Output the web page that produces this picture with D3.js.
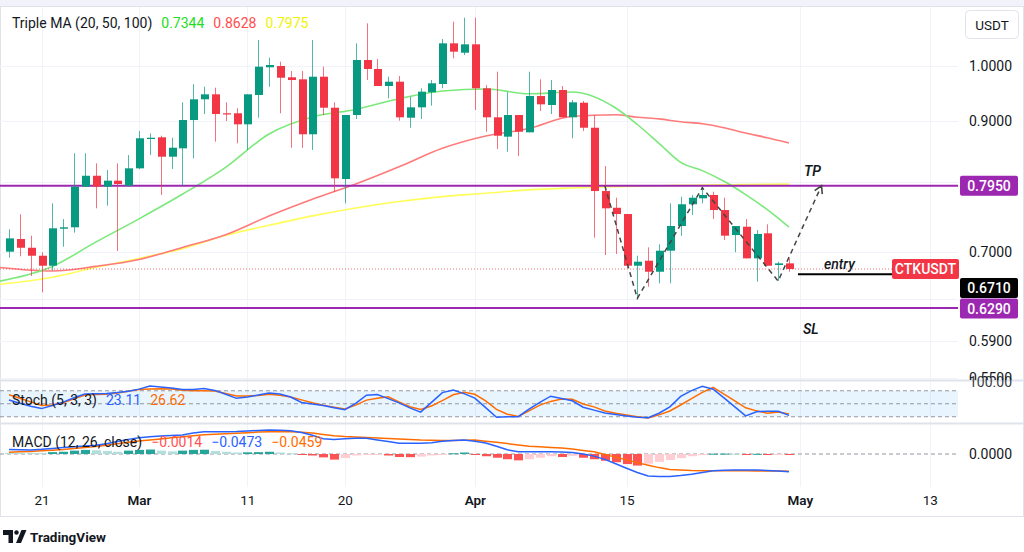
<!DOCTYPE html>
<html><head><meta charset="utf-8">
<script src="https://cdn.jsdelivr.net/npm/d3@7"></script>
<style>
html,body{margin:0;padding:0;background:#fff;}
svg{display:block;font-family:Roboto,"Noto Sans",sans-serif;}
</style></head><body>
<svg id="c" width="1024" height="552"></svg>
<script>
// ---------------- DATA ----------------
const startDay = "2024-02-18";
const open  = [0.7007,0.7179,0.7060,0.6953,0.6821,0.7322,0.7342,0.7936,0.8104,0.7936,0.8028,0.7951,0.8220,0.8695,0.8723,0.8405,0.8541,0.9017,0.9382,0.9472,0.9134,0.9134,0.8943,0.9460,0.9975,1.0000,0.9786,0.9748,0.8774,0.9797,0.9232,0.8053,0.9104,1.0116,0.9943,0.9624,0.9704,0.9057,0.9239,0.9509,0.9661,1.0444,1.0258,1.0424,0.9582,0.9064,0.8734,0.9104,0.8807,0.9441,0.9280,0.9551,0.9064,0.9321,0.8885,0.7870,0.7622,0.7531,0.6821,0.6887,0.6743,0.7020,0.7360,0.7673,0.7761,0.7811,0.7589,0.7234,0.7350,0.6918,0.7258,0.6830,0.6852];
const high  = [0.7314,0.7527,0.7225,0.6999,0.7687,0.7459,0.8460,0.8460,0.8299,0.8194,0.8299,0.8432,0.8829,0.8790,0.8750,0.8716,0.9328,0.9655,0.9611,0.9593,0.9328,0.9222,0.9472,1.0511,1.0160,1.0083,0.9905,0.9905,1.0511,0.9987,0.9328,0.9104,1.0444,1.0852,1.0135,0.9797,0.9810,0.9429,0.9582,0.9735,1.0531,1.0886,1.0969,1.0969,0.9640,0.9892,0.9509,0.9104,0.9892,0.9748,0.9735,0.9624,0.9369,0.9352,0.9104,0.8257,0.7770,0.7531,0.6953,0.7066,0.7106,0.7687,0.7785,0.7811,0.7921,0.7860,0.7770,0.7360,0.7459,0.7304,0.7384,0.6874,0.6918];
const low   = [0.6927,0.6945,0.6688,0.6482,0.6761,0.7074,0.7267,0.7936,0.7614,0.7652,0.7016,0.7936,0.8209,0.8432,0.7811,0.8209,0.7951,0.8379,0.9121,0.8650,0.9000,0.8623,0.8514,0.9057,0.9611,0.9134,0.8551,0.8551,0.8514,0.9104,0.7860,0.7687,0.9035,0.9735,0.9624,0.9400,0.9005,0.8885,0.9035,0.9268,0.9582,1.0149,1.0213,0.9192,0.8817,0.8530,0.8486,0.8416,0.8807,0.9174,0.9121,0.9064,0.8707,0.8829,0.7197,0.6962,0.6976,0.6787,0.6408,0.6552,0.6595,0.6595,0.7225,0.7517,0.7687,0.7459,0.7165,0.6999,0.6918,0.6615,0.6821,0.6624,0.6743];
const close = [0.7188,0.7060,0.6953,0.6821,0.7328,0.7342,0.7936,0.8104,0.7936,0.8028,0.7977,0.8220,0.8707,0.8716,0.8405,0.8551,0.9017,0.9382,0.9472,0.9121,0.9116,0.8943,0.9472,0.9987,1.0019,0.9778,0.9735,0.8774,0.9797,0.9232,0.8064,0.9104,1.0116,0.9943,0.9624,0.9704,0.9064,0.9239,0.9520,0.9674,1.0444,1.0278,1.0424,0.9582,0.9064,0.8750,0.9104,0.8817,0.9441,0.9292,0.9551,0.9064,0.9328,0.8885,0.7870,0.7614,0.7531,0.6821,0.6874,0.6743,0.7020,0.7360,0.7673,0.7770,0.7811,0.7589,0.7225,0.7360,0.6918,0.7249,0.6821,0.6852,0.6778];

// moving averages, read at these day offsets from startDay
const maDays = [-1,4,8,12,16,20,24,28,32,36,40,44,48,52,56,58,60,62,64,66,68,70,72];
const ma20  = [0.6618,0.6811,0.7136,0.7462,0.7821,0.8236,0.8779,0.9069,0.9202,0.9393,0.9531,0.9569,0.9481,0.9514,0.9227,0.8940,0.8623,0.8315,0.8184,0.8018,0.7816,0.7594,0.7344];
const ma50  = [0.6800,0.6752,0.6812,0.6903,0.7064,0.7239,0.7502,0.7747,0.7976,0.8244,0.8541,0.8745,0.8872,0.9081,0.9109,0.9064,0.9036,0.8986,0.8952,0.8885,0.8795,0.8716,0.8628];
const ma100 = [0.6580,0.6671,0.6800,0.6917,0.7048,0.7230,0.7370,0.7504,0.7619,0.7713,0.7787,0.7836,0.7887,0.7916,0.7936,0.7944,0.7951,0.7956,0.7961,0.7965,0.7969,0.7972,0.7975];

const stochK = [58.6,51.3,44.1,38.8,45.9,53.8,63.8,72.5,73.1,73.7,75.8,78.7,83.8,90.8,88.9,86.3,82.9,83.1,85.1,80.8,72.1,62.5,65.8,70.0,75.0,72.3,65.5,52.9,49.3,45.7,41.0,36.2,51.0,69.8,71.1,61.9,52.1,40.4,30.7,53.2,75.7,81.6,73.4,63.1,41.0,18.9,20.1,20.1,37.4,53.3,67.4,62.0,56.9,41.9,35.3,28.8,25.0,21.7,18.8,17.7,28.1,42.8,67.1,80.4,90.5,83.5,63.5,42.9,22.0,31.4,32.9,32.8,23.11];
const stochD = [70.9,62.6,54.4,46.1,47.2,52.2,61.7,70.2,71.2,72.1,75.0,78.9,82.8,84.0,84.9,84.2,81.2,80.1,80.1,79.3,73.5,67.9,67.8,69.1,72.1,69.4,65.8,58.9,52.1,46.6,42.2,37.8,46.7,58.4,62.9,66.2,54.1,43.2,37.0,44.8,57.4,70.7,76.6,71.8,56.8,37.0,25.9,20.4,33.6,46.8,55.4,60.9,60.5,49.5,42.8,33.2,28.1,24.0,19.8,17.2,24.3,33.3,47.1,61.7,76.3,87.6,72.1,56.4,40.7,33.6,28.0,31.1,26.62];

const macdLine = [0.0120,0.0114,0.0109,0.0125,0.0148,0.0171,0.0192,0.0212,0.0233,0.0275,0.0333,0.0391,0.0434,0.0463,0.0478,0.0492,0.0506,0.0561,0.0597,0.0597,0.0597,0.0602,0.0616,0.0630,0.0640,0.0632,0.0621,0.0575,0.0502,0.0406,0.0387,0.0409,0.0419,0.0419,0.0376,0.0332,0.0289,0.0285,0.0285,0.0302,0.0340,0.0359,0.0372,0.0338,0.0292,0.0206,0.0112,0.0062,0.0062,0.0062,0.0061,0.0051,0.0040,0.0001,-0.0057,-0.0143,-0.0262,-0.0381,-0.0493,-0.0589,-0.0599,-0.0599,-0.0575,-0.0540,-0.0492,-0.0450,-0.0433,-0.0428,-0.0428,-0.0428,-0.0442,-0.0456,-0.0473];
const signalLine = [0.0045,0.0057,0.0069,0.0085,0.0102,0.0119,0.0144,0.0173,0.0202,0.0236,0.0275,0.0312,0.0345,0.0373,0.0403,0.0432,0.0461,0.0490,0.0513,0.0528,0.0543,0.0557,0.0571,0.0586,0.0597,0.0597,0.0597,0.0581,0.0561,0.0523,0.0490,0.0466,0.0453,0.0439,0.0427,0.0417,0.0402,0.0388,0.0373,0.0366,0.0361,0.0359,0.0366,0.0373,0.0341,0.0312,0.0278,0.0242,0.0210,0.0193,0.0176,0.0160,0.0133,0.0096,0.0058,-0.0012,-0.0083,-0.0157,-0.0231,-0.0299,-0.0364,-0.0414,-0.0429,-0.0443,-0.0446,-0.0446,-0.0446,-0.0446,-0.0449,-0.0452,-0.0455,-0.0455,-0.0459];
const histo = [0.003,0.003,0.003,0.003,0.005,0.006,0.009,0.011,0.010,0.008,0.006,0.009,0.011,0.012,0.009,0.007,0.009,0.011,0.0115,0.008,0.006,0.004,0.0045,0.005,0.006,0.004,0.002,-0.002,-0.004,-0.009,-0.015,-0.011,-0.004,-0.002,-0.002,-0.004,-0.008,-0.0085,-0.007,-0.004,-0.002,0.002,0.004,-0.002,-0.006,-0.010,-0.014,-0.017,-0.014,-0.010,-0.006,-0.008,-0.005,-0.010,-0.014,-0.018,-0.022,-0.027,-0.031,-0.026,-0.021,-0.016,-0.011,-0.006,-0.003,0.0008,0.001,0.001,-0.001,0.0005,-0.001,-0.001,-0.0014];

// levels & annotation path
const tpLevel = 0.7950, slLevel = 0.6290, entryLevel = 0.6710, lastPrice = 0.6778;
const pathDays = [55,58,64,71,75];
const pathPrices = [0.7950,0.6408,0.7921,0.6624,0.7950];

const timeTicks = ["2024-02-21","2024-03-01","2024-03-11","2024-03-20","2024-04-01","2024-04-15","2024-05-01","2024-05-13"];
const timeLabels = ["21","Mar","11","20","Apr","15","May","13"];
const priceGrid = [1.0,0.9,0.8,0.7,0.64,0.59,0.55];
const priceLabels = [1.0,0.9,0.7,0.59,0.55];

// ---------------- DRAW ----------------
const UP="#089981", DN="#f23645", TXT="#131722", GRID="#f0f3fa";
const svg=d3.select("#c");
const parse=d3.utcParse("%Y-%m-%d");
const t0=parse(startDay);
const day=i=>d3.utcDay.offset(t0,i);
const x=d3.scaleUtc().domain([t0,day(72)]).range([9,789]);
const yP=d3.scaleLog().domain([0.55,1]).range([378.1,66]);
const yS=d3.scaleLinear().domain([0,100]).range([425.4,382.1]);
const yM=d3.scaleLinear().domain([-0.08,0.08]).range([483.92,424.08]);
const plotR=958;

svg.append("rect").attr("width",1024).attr("height",552).attr("fill","#fff");
svg.append("rect").attr("width",1024).attr("height",6).attr("fill","#f0f3fa");
svg.append("rect").attr("x",0.5).attr("y",6.5).attr("width",1023).attr("height",510).attr("fill","none").attr("stroke","#e0e3eb");

const defs=svg.append("defs");
[["cm",8,372],["cs",381,42],["cmd",424,63]].forEach(([id,y0,h])=>{
  defs.append("clipPath").attr("id",id).append("rect").attr("x",0).attr("y",y0).attr("width",plotR).attr("height",h);
});
defs.append("clipPath").attr("id","cax").append("rect").attr("x",958).attr("y",40).attr("width",66).attr("height",340);
defs.append("marker").attr("id","arr").attr("viewBox","0 0 10 10").attr("refX",8).attr("refY",5)
  .attr("markerWidth",7).attr("markerHeight",7).attr("orient","auto")
  .append("path").attr("d","M1,1 L8,5 L1,9").attr("fill","none").attr("stroke","#444").attr("stroke-width",1.5);

// vertical grid
svg.append("g").selectAll("line").data(timeTicks).join("line")
  .attr("x1",d=>Math.round(x(parse(d)))+0.5).attr("x2",d=>Math.round(x(parse(d)))+0.5)
  .attr("y1",7).attr("y2",487).attr("stroke",GRID);
// horizontal price grid
svg.append("g").selectAll("line").data(priceGrid).join("line")
  .attr("x1",0).attr("x2",plotR).attr("y1",d=>Math.round(yP(d))+0.5).attr("y2",d=>Math.round(yP(d))+0.5).attr("stroke",GRID);

// pane separators
[380,423].forEach(yy=>svg.append("line").attr("x1",0).attr("x2",1024).attr("y1",yy+0.5).attr("y2",yy+0.5).attr("stroke","#e0e3eb").attr("stroke-width",2));

// ---- main pane
const main=svg.append("g").attr("clip-path","url(#cm)");
const maLine=d3.line().x((d,i)=>x(day(maDays[i]))).y(d=>yP(d)).curve(d3.curveMonotoneX);
main.append("path").attr("d",maLine(ma100)).attr("fill","none").attr("stroke","#ffff5c").attr("stroke-width",1.6);
main.append("path").attr("d",maLine(ma50)).attr("fill","none").attr("stroke","#ff7b7b").attr("stroke-width",1.6);
main.append("path").attr("d",maLine(ma20)).attr("fill","none").attr("stroke","#7be97b").attr("stroke-width",1.6);

// levels
main.append("line").attr("x1",0).attr("x2",892).attr("y1",yP(lastPrice)).attr("y2",yP(lastPrice))
  .attr("stroke",DN).attr("stroke-width",1).attr("stroke-dasharray","1,2").attr("opacity",0.7);
[tpLevel,slLevel].forEach(v=>main.append("line").attr("x1",0).attr("x2",plotR).attr("y1",yP(v)).attr("y2",yP(v))
  .attr("stroke","#9c27b0").attr("stroke-width",2));

const candles=open.map((o,i)=>({d:day(i),o,h:high[i],l:low[i],c:close[i]}));
const col=d=>d.c>=d.o?UP:DN;
main.append("g").selectAll("line").data(candles).join("line")
  .attr("x1",d=>Math.round(x(d.d))+0.5).attr("x2",d=>Math.round(x(d.d))+0.5)
  .attr("y1",d=>yP(d.h)).attr("y2",d=>yP(d.l)).attr("stroke",col).attr("opacity",0.7);
main.append("g").selectAll("rect").data(candles).join("rect")
  .attr("x",d=>Math.round(x(d.d))-3).attr("width",8)
  .attr("y",d=>yP(Math.max(d.o,d.c))).attr("height",d=>Math.max(1.2,Math.abs(yP(d.o)-yP(d.c))))
  .attr("fill",col);

// dashed projection path
const pLine=d3.line().x((d,i)=>x(day(pathDays[i]))).y(d=>yP(d));
main.append("path").attr("d",pLine(pathPrices)).attr("fill","none").attr("stroke","#444")
  .attr("stroke-width",1.5).attr("stroke-dasharray","5,4").attr("marker-end","url(#arr)");

// entry line
main.append("line").attr("x1",798).attr("x2",892).attr("y1",yP(entryLevel)).attr("y2",yP(entryLevel))
  .attr("stroke","#000").attr("stroke-width",2);

// annotation text
svg.append("text").attr("x",804).attr("y",176).text("TP").attr("font-style","italic").attr("font-weight",600).attr("font-size",14).attr("fill",TXT);
svg.append("text").attr("x",803).attr("y",334).text("SL").attr("font-style","italic").attr("font-weight",600).attr("font-size",14).attr("fill",TXT);
svg.append("text").attr("x",824).attr("y",269).text("entry").attr("font-style","italic").attr("font-weight",500).attr("font-size",14).attr("fill",TXT);

// ---- stoch pane
const st=svg.append("g").attr("clip-path","url(#cs)");
st.append("rect").attr("x",0).attr("width",plotR).attr("y",yS(80)).attr("height",yS(20)-yS(80)).attr("fill","rgba(33,150,243,0.1)");
[80,50,20].forEach(v=>st.append("line").attr("x1",0).attr("x2",plotR).attr("y1",yS(v)).attr("y2",yS(v))
  .attr("stroke","#9598a1").attr("stroke-dasharray","4,3").attr("stroke-width",1));
const sLine=d3.line().x((d,i)=>x(day(i))).y(d=>yS(d));
st.append("path").attr("d",sLine(stochD)).attr("fill","none").attr("stroke","#ff6d00").attr("stroke-width",1.5);
st.append("path").attr("d",sLine(stochK)).attr("fill","none").attr("stroke","#2962ff").attr("stroke-width",1.5);

// ---- macd pane
const md=svg.append("g").attr("clip-path","url(#cmd)");
md.append("line").attr("x1",0).attr("x2",plotR).attr("y1",yM(0)).attr("y2",yM(0))
  .attr("stroke","#9598a1").attr("stroke-dasharray","4,3");
const hcol=(v,i)=>{const p=i>0?histo[i-1]:v; if(v>=0) return v>p?"#26a69a":"#b2dfdb"; return v<p?"#ff5252":"#ffcdd2";};
md.append("g").selectAll("rect").data(histo).join("rect")
  .attr("x",(d,i)=>Math.round(x(day(i)))-4).attr("width",9)
  .attr("y",d=>Math.min(yM(d),yM(0))).attr("height",d=>Math.max(1,Math.abs(yM(d)-yM(0))))
  .attr("fill",hcol);
const mLine=d3.line().x((d,i)=>x(day(i))).y(d=>yM(d));
md.append("path").attr("d",mLine(signalLine)).attr("fill","none").attr("stroke","#ff6d00").attr("stroke-width",1.5);
md.append("path").attr("d",mLine(macdLine)).attr("fill","none").attr("stroke","#2962ff").attr("stroke-width",1.5);

// ---- time axis
const xAxis=d3.axisBottom(x).tickValues(timeTicks.map(parse)).tickFormat((d,i)=>timeLabels[i]).tickSize(0).tickPadding(0);
const gx=svg.append("g").attr("transform","translate(0,495)").call(xAxis);
gx.select(".domain").remove();
gx.selectAll("text").attr("font-size",13.5).attr("fill",TXT).attr("font-family","Roboto,sans-serif")
  .attr("font-weight",(d,i)=>/[A-Za-z]/.test(timeLabels[i])?600:400);

// ---- price axis
const yAxis=d3.axisRight(yP).tickValues(priceLabels).tickFormat(d3.format(".4f")).tickSize(0).tickPadding(0);
const gy=svg.append("g").attr("clip-path","url(#cax)").append("g").attr("transform","translate(969,0)").call(yAxis);
gy.select(".domain").remove();
gy.selectAll("text").attr("font-size",14).attr("fill",TXT).attr("font-family","Roboto,sans-serif");
// stoch/macd axis labels
svg.append("text").attr("x",969).attr("y",yS(100)+5).text("100.00").attr("font-size",14).attr("fill",TXT).attr("opacity",0.85);
svg.append("text").attr("x",969).attr("y",yM(0)+5).text("0.0000").attr("font-size",14).attr("fill",TXT);

// labels on axis
function tag(xl,yc,w,txt,fill){
  svg.append("rect").attr("x",xl).attr("y",yc-10).attr("width",w).attr("height",20).attr("rx",2).attr("fill",fill);
  svg.append("text").attr("x",xl+w/2).attr("y",yc+5).attr("text-anchor","middle").text(txt)
    .attr("fill","#fff").attr("font-size",14).attr("font-weight",500);
}
tag(960,yP(tpLevel),58,d3.format(".4f")(tpLevel),"#9c27b0");
tag(960,288,58,d3.format(".4f")(entryLevel),"#000");
tag(960,yP(slLevel)+0.5,58,d3.format(".4f")(slLevel),"#9c27b0");
tag(892,yP(lastPrice),67,"CTKUSDT","#f23645");

// USDT button
svg.append("rect").attr("x",965.5).attr("y",10.5).attr("width",53).attr("height",28).attr("rx",4).attr("fill","#fff").attr("stroke","#e0e3eb");
svg.append("text").attr("x",992).attr("y",29.5).attr("text-anchor","middle").text("USDT").attr("font-size",13.5).attr("fill",TXT);

// legends
const lg=svg.append("text").attr("x",12).attr("y",28).attr("font-size",14).attr("fill",TXT);
lg.append("tspan").text("Triple MA (20, 50, 100)");
lg.append("tspan").attr("dx",9).attr("fill","#22dd22").text(d3.format(".4f")(ma20[ma20.length-1]));
lg.append("tspan").attr("dx",9).attr("fill","#ff4d4d").text(d3.format(".4f")(ma50[ma50.length-1]));
lg.append("tspan").attr("dx",9).attr("fill","#f2f200").text(d3.format(".4f")(ma100[ma100.length-1]));

const ls=svg.append("text").attr("x",12).attr("y",405).attr("font-size",14).attr("fill",TXT);
ls.append("tspan").text("Stoch (5, 3, 3)");
ls.append("tspan").attr("dx",9).attr("fill","#2962ff").text(stochK[stochK.length-1].toFixed(2));
ls.append("tspan").attr("dx",9).attr("fill","#ff6d00").text(stochD[stochD.length-1].toFixed(2));

const fm=v=>(v<0?"\u2212":"")+Math.abs(v).toFixed(4);
const lm=svg.append("text").attr("x",12).attr("y",447).attr("font-size",14).attr("fill",TXT);
lm.append("tspan").text("MACD (12, 26, close)");
lm.append("tspan").attr("dx",9).attr("fill","#ff5252").text(fm(histo[histo.length-1]));
lm.append("tspan").attr("dx",9).attr("fill","#2962ff").text(fm(macdLine[macdLine.length-1]));
lm.append("tspan").attr("dx",9).attr("fill","#ff6d00").text(fm(signalLine[signalLine.length-1]));

// TradingView logo
const lgG=svg.append("g").attr("fill",TXT);
lgG.append("path").attr("d","M3,530 h10 v13 h-4.5 v-8 h-5.5 z");
lgG.append("circle").attr("cx",16.5).attr("cy",532.5).attr("r",2.2);
lgG.append("path").attr("d","M16,543 L21.5,530 H26.5 L21,543 z");
svg.append("text").attr("x",30).attr("y",542).text("TradingView").attr("font-size",13.5).attr("font-weight",700).attr("fill",TXT);
</script>
</body></html>
